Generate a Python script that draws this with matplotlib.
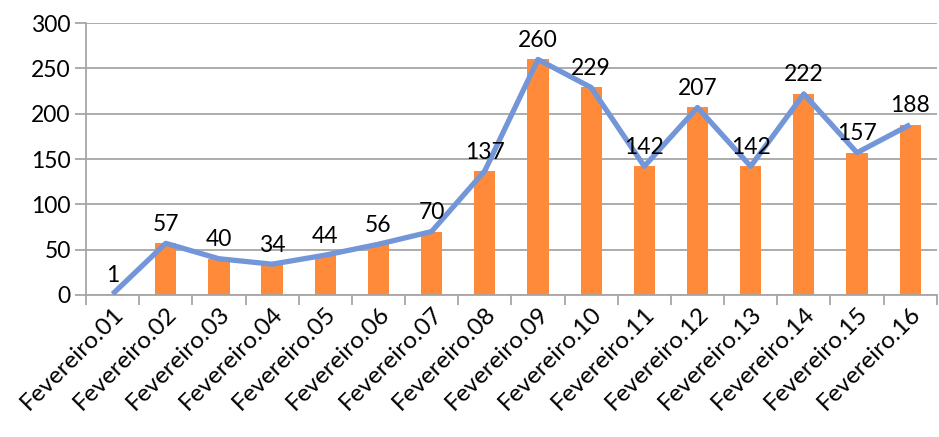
import matplotlib
matplotlib.use("Agg")
import matplotlib.pyplot as plt
import numpy as np

# data
categories = ["Fevereiro.%02d" % d for d in range(1, 17)]
values = [1, 57, 40, 34, 44, 56, 70, 137, 260, 229, 142, 207, 142, 222, 157, 188]
y_ticks = [0, 50, 100, 150, 200, 250, 300]

plt.rcParams['font.family'] = ['Lato', 'DejaVu Sans']

fig = plt.figure(figsize=(9.39, 4.37), dpi=100)
ax = fig.add_axes([0.0916, 0.325, 0.906, 0.622])

x = np.arange(len(categories))
grey = "#a6a6a6"

ax.bar(x, values, width=0.4, color="#ff8a3a", zorder=2)
ax.plot(x, values, color="#7396d8", linewidth=3.8, zorder=3, solid_capstyle="butt")

for xi, v in zip(x, values):
    ax.annotate(str(v), (xi, v), xytext=(0, 6), textcoords="offset points",
                ha="center", va="bottom", fontsize=16.5, color="black", zorder=4)

ax.set_xlim(-0.5, len(categories) - 0.5)
ax.set_ylim(0, 300)
ax.set_yticks(y_ticks)
ax.tick_params(axis="y", labelsize=16.5, length=8, color=grey, width=1.3, pad=3)
ax.yaxis.grid(True, color=grey, linewidth=1.3, zorder=0)
ax.set_axisbelow(True)

ax.set_xticks(x)
ax.set_xticklabels(categories, rotation=45, ha="right", rotation_mode="anchor", fontsize=17.5)
ax.tick_params(axis="x", which="major", length=0, pad=6)
ax.set_xticks(np.arange(-0.5, len(categories)), minor=True)
ax.tick_params(axis="x", which="minor", length=7, color=grey, width=1.3)

for s in ["top", "right"]:
    ax.spines[s].set_visible(False)
for s in ["left", "bottom"]:
    ax.spines[s].set_color(grey)
    ax.spines[s].set_linewidth(1.3)

fig.savefig("out.png", dpi=100)
